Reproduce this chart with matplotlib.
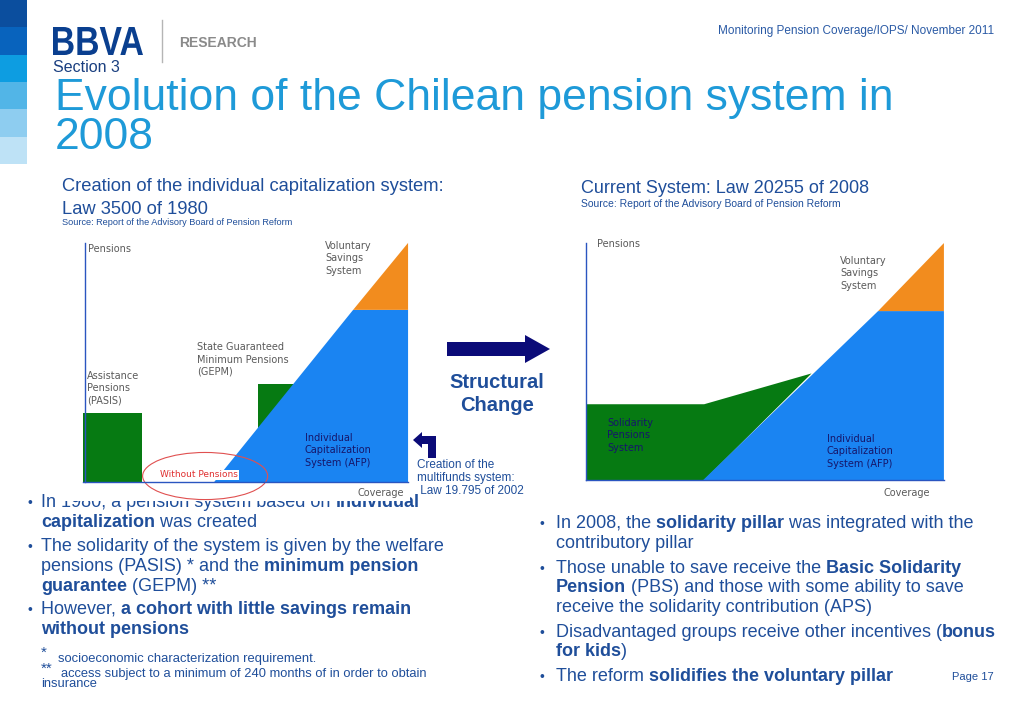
import matplotlib as mpl
import matplotlib.pyplot as plt
from matplotlib.patches import Rectangle, Ellipse, Polygon, FancyArrow, PathPatch
from matplotlib.textpath import TextPath
from matplotlib.font_manager import FontProperties
from matplotlib.transforms import Affine2D

mpl.rcParams["font.family"] = ["Liberation Sans", "DejaVu Sans"]

# ---- diagram data (coverage %, pension level %) ----
# 1980 system
L_PASIS_X = [-0.6, 17.6]
L_PASIS_H = 29
L_GEPM_X = [53.5, 70]
L_GEPM_H = 41
L_AFP_C = [40, 83, 100, 100]
L_AFP_P = [0, 72, 72, 0]
L_VOL_C = [83, 100, 100]
L_VOL_P = [72, 100, 72]

# 2008 system
R_SPS_C = [0, 0, 33, 63, 33]
R_SPS_P = [0, 32, 32, 45, 0]
R_AFP_C = [32.7, 81.6, 100, 100]
R_AFP_P = [0, 71.3, 71.3, 0]
R_VOL_C = [81.6, 100, 100]
R_VOL_P = [71.3, 100, 71.3]

SIDEBAR_COLORS = ["#0b4e9e", "#0863bd", "#0d9de1", "#52b5e7", "#8ecdf0", "#bee2f6"]

TXT = "#1f4e9a"
TITLE = "#1e9ad8"
NAVY = "#0b0b78"
GREEN = "#067a12"
BLUE = "#1a84f2"
ORANGE = "#f28c1e"
GRAY = "#5a5a5a"
DARK = "#16166a"
AXIS = "#2a55c0"
DIAG_FONT = "DejaVu Sans"
BODY = 13

W, H = 1023, 708
fig = plt.figure(figsize=(W / 100, H / 100), dpi=100)
bg = fig.add_axes([0, 0, 1, 1], zorder=0)
bg.set_xlim(0, W)
bg.set_ylim(H, 0)
bg.axis("off")


def rich(x, y, parts, size=BODY, color=TXT):
    t = None
    for txt, bold in parts:
        w = "bold" if bold else "normal"
        if t is None:
            t = bg.text(x, y, txt, fontsize=size, color=color, fontweight=w, va="baseline")
        else:
            t = bg.annotate(txt, xy=(1, 0), xycoords=t, fontsize=size, color=color,
                            fontweight=w, va="bottom")
    return t


# sidebar squares
for i, c in enumerate(SIDEBAR_COLORS):
    bg.add_patch(Rectangle((0, i * 27.3), 27, 27.3, color=c, lw=0))

# logo
tp = TextPath((0, 0), "BBVA", size=30, prop=FontProperties(family="Liberation Sans", weight="bold"))
ext = tp.get_extents()
sx = 90 / ext.width
sy = 28 / ext.height
tr = Affine2D().translate(-ext.x0, -ext.y0).scale(sx, -sy).translate(53, 55) + bg.transData
bg.add_patch(PathPatch(tp, transform=tr, color="#0a3f8f", lw=0))
bg.plot([162, 162], [20, 62], color="#b5b5b5", lw=1)
bg.text(179, 47, "RESEARCH", fontsize=10, fontweight="bold", color="#8a8a8a", va="baseline")

bg.text(718, 34, "Monitoring Pension Coverage/IOPS/ November 2011", fontsize=8.5, color="#2a5aa5",
        va="baseline")
bg.text(53, 72, "Section 3", fontsize=11.5, color="#1a3f80", va="baseline")
bg.text(55, 110, "Evolution of the Chilean pension system in", fontsize=32, color=TITLE, va="baseline")
bg.text(55, 149, "2008", fontsize=32, color=TITLE, va="baseline")

bg.text(62, 191, "Creation of the individual capitalization system:", fontsize=13.2, color=TXT,
        va="baseline")
bg.text(62, 214, "Law 3500 of 1980", fontsize=13.2, color=TXT, va="baseline")
bg.text(62, 225, "Source: Report of the Advisory Board of Pension Reform", fontsize=6.6, color=TXT,
        va="baseline")
bg.text(581, 193, "Current System: Law 20255 of 2008", fontsize=13, color=TXT, va="baseline")
bg.text(581, 207, "Source: Report of the Advisory Board of Pension Reform", fontsize=7.5, color=TXT,
        va="baseline")

# arrows
bg.add_patch(FancyArrow(447, 349, 103, 0, width=14, head_width=28, head_length=25,
                        length_includes_head=True, color=NAVY, lw=0))
bg.add_patch(Polygon([(413, 440), (422, 432), (422, 436), (436, 436), (436, 458), (428, 458),
                      (428, 444), (422, 444), (422, 448)], closed=True, color=NAVY, lw=0))
bg.text(497, 388, "Structural", fontsize=14.5, fontweight="bold", color=TXT, ha="center", va="baseline")
bg.text(497, 411, "Change", fontsize=14.5, fontweight="bold", color=TXT, ha="center", va="baseline")
for y, s in zip([468, 481, 494], ["Creation of the", "multifunds system:", " Law 19.795 of 2002"]):
    bg.text(417, y, s, fontsize=8.5, color=TXT, va="baseline")

# left bullets
LX, BX = 41, 27
left_lines = [
    (507, True, [("In 1980, a pension system based on ", False), ("individual", True)]),
    (527, False, [("capitalization", True), (" was created", False)]),
    (551, True, [("The solidarity of the system is given by the welfare", False)]),
    (571, False, [("pensions (PASIS) * and the ", False), ("minimum pension", True)]),
    (591, False, [("guarantee", True), (" (GEPM) **", False)]),
    (614, True, [("However, ", False), ("a cohort with little savings remain", True)]),
    (634, False, [("without pensions", True)]),
]
for y, bullet, parts in left_lines:
    if bullet:
        bg.text(BX, y, "\u2022", fontsize=10, color=TXT, va="baseline")
    rich(LX, y, parts)

bg.text(41, 657, "*", fontsize=11, color=TXT, va="baseline")
bg.text(58, 662, "socioeconomic characterization requirement.", fontsize=9.4, color=TXT, va="baseline")
bg.text(41, 673, "**", fontsize=11, color=TXT, va="baseline")
bg.text(61, 677, "access subject to a minimum of 240 months of in order to obtain", fontsize=9.3,
        color=TXT, va="baseline")
bg.text(41, 687, "insurance", fontsize=9.3, color=TXT, va="baseline")

# right bullets
RX, RBX = 556, 540
right_lines = [
    (528, True, [("In 2008, the ", False), ("solidarity pillar", True), (" was integrated with the", False)]),
    (548, False, [("contributory pillar", False)]),
    (573, True, [("Those unable to save receive the ", False), ("Basic Solidarity", True)]),
    (592, False, [("Pension", True), (" (PBS) and those with some ability to save", False)]),
    (612, False, [("receive the solidarity contribution (APS)", False)]),
    (637, True, [("Disadvantaged groups receive other incentives (", False), ("bonus", True)]),
    (656, False, [("for kids", True), (")", False)]),
    (681, True, [("The reform ", False), ("solidifies the voluntary pillar", True)]),
]
for y, bullet, parts in right_lines:
    if bullet:
        bg.text(RBX, y, "\u2022", fontsize=10, color=TXT, va="baseline")
    rich(RX, y, parts)
bg.text(952, 680, "Page 17", fontsize=8, color=TXT, va="baseline")

# ---- left diagram (1980), its white box hides the top of the first bullet ----
axL = fig.add_axes([62 / W, 1 - 501 / H, 348 / W, 271 / H], zorder=2)
axL.set_xlim(-7.1, 100.6)
axL.set_ylim(-7.95, 105.4)
axL.axis("off")
axL.add_patch(Rectangle((-7.1, -7.95), 107.7, 113.35, color="white", zorder=0))
axL.bar(L_PASIS_X[0], L_PASIS_H, width=L_PASIS_X[1] - L_PASIS_X[0], align="edge", color=GREEN, lw=0)
axL.bar(L_GEPM_X[0], L_GEPM_H, width=L_GEPM_X[1] - L_GEPM_X[0], align="edge", color=GREEN, lw=0)
axL.fill(L_AFP_C, L_AFP_P, color=BLUE, lw=0)
axL.fill(L_VOL_C, L_VOL_P, color=ORANGE, lw=0)
axL.plot([0, 0], [0, 100], color=AXIS, lw=1)
axL.plot([-0.6, 100], [0, 0], color=AXIS, lw=1)

kw = dict(fontsize=7, family=DIAG_FONT, linespacing=1.3)
axL.text(0.8, 97.5, "Pensions", color=GRAY, va="center", **kw)
axL.text(74.3, 100.8, "Voluntary\nSavings\nSystem", color=GRAY, va="top", **kw)
axL.text(34.7, 58.5, "State Guaranteed\nMinimum Pensions\n(GEPM)", color=GRAY, va="top", **kw)
axL.text(0.6, 46.5, "Assistance\nPensions\n(PASIS)", color=GRAY, va="top", **kw)
axL.text(68.1, 20.5, "Individual\nCapitalization\nSystem (AFP)", color=DARK, va="top", **kw)
axL.text(35.3, 3.0, "Without Pensions", color="#e03030", fontsize=6.5, family=DIAG_FONT,
         ha="center", va="center",
         bbox=dict(facecolor="white", edgecolor="none", pad=0.5))
axL.add_patch(Ellipse((37.2, 2.5), 38.7, 19.7, fill=False, edgecolor="#e05050", lw=0.8, clip_on=False))
axL.text(84.2, -4.6, "Coverage", color=GRAY, va="center", **kw)

# ---- right diagram (2008) ----
axR = fig.add_axes([575 / W, 1 - 500 / H, 375 / W, 265 / H], zorder=2)
axR.set_xlim(-3.1, 101.7)
axR.set_ylim(-8.4, 103.4)
axR.axis("off")
axR.fill(R_SPS_C, R_SPS_P, color=GREEN, lw=0)
axR.fill(R_AFP_C, R_AFP_P, color=BLUE, lw=0)
axR.fill(R_VOL_C, R_VOL_P, color=ORANGE, lw=0)
axR.plot([0, 0], [0, 100], color=AXIS, lw=1)
axR.plot([0, 100], [0, 0], color=AXIS, lw=1)
axR.text(3.1, 99.6, "Pensions", color=GRAY, va="center", **kw)
axR.text(71, 94.5, "Voluntary\nSavings\nSystem", color=GRAY, va="top", **kw)
axR.text(5.9, 26.2, "Solidarity\nPensions\nSystem", color=DARK, va="top", **kw)
axR.text(67.3, 19.5, "Individual\nCapitalization\nSystem (AFP)", color=DARK, va="top", **kw)
axR.text(83, -5.5, "Coverage", color=GRAY, va="center", **kw)

fig.savefig("out.png", dpi=100)
